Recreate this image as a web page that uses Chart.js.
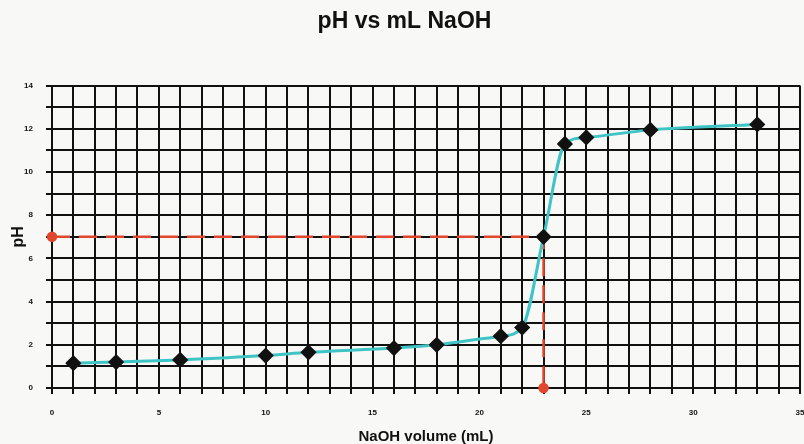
<!DOCTYPE html>
<html lang="en">
<head>
    <meta charset="UTF-8">
    <title>pH vs mL NaOH</title>
    <script src="https://cdn.jsdelivr.net/npm/chart.js"></script>
    <style>
        html, body { margin: 0; padding: 0; background: #f8f8f6; overflow: hidden; }
        /* a little wider than the window so the 35 mL edge lands at the right border, as in the scan */
        #wrap { width: 809px; height: 444px; position: relative; }
    </style>
</head>
<body>
    <div id="wrap"><canvas id="phChart"></canvas></div>
    <script>
        // titration readings
        const volumeMl = [1, 3, 6, 10, 12, 16, 18, 21, 22, 23, 24, 25, 28, 33];
        const phValues = [1.15, 1.2, 1.3, 1.5, 1.65, 1.85, 2.0, 2.4, 2.8, 7.0, 11.3, 11.6, 11.95, 12.2];

        // equivalence point guide (dashed red)
        const guideX = [0, 23, 23];
        const guideY = [7, 7, 0];

        const xTickLabels = [0, 5, 10, 15, 20, 25, 30, 35];
        const yTickLabels = [0, 2, 4, 6, 8, 10, 12, 14];

        const curve = volumeMl.map((v, i) => ({ x: v, y: phValues[i] }));
        const guide = guideX.map((v, i) => ({ x: v, y: guideY[i] }));

        const tickFont = { family: 'Liberation Sans, Arial', size: 8, weight: 'bold' };

        new Chart(document.getElementById('phChart'), {
            type: 'scatter',
            data: {
                datasets: [
                    {
                        data: curve,
                        showLine: true,
                        borderColor: '#3fc4c6',
                        borderWidth: 3,
                        cubicInterpolationMode: 'monotone',
                        pointStyle: 'rectRot',
                        pointRadius: 6,
                        pointBackgroundColor: '#111',
                        pointBorderColor: '#111',
                        order: 0
                    },
                    {
                        data: guide,
                        showLine: true,
                        clip: false,
                        borderColor: '#e0472c',
                        borderWidth: 2.5,
                        borderDash: [18, 9],
                        pointRadius: [4, 0, 4],
                        pointBackgroundColor: '#e0472c',
                        pointBorderColor: '#e0472c',
                        order: 1
                    }
                ]
            },
            options: {
                responsive: true,
                maintainAspectRatio: false,
                animation: false,
                plugins: {
                    legend: { display: false },
                    tooltip: { enabled: false },
                    title: {
                        display: true,
                        text: 'pH vs mL NaOH',
                        color: '#111',
                        font: { family: 'Liberation Sans, Arial', size: 23, weight: 'bold' },
                        padding: { top: 8, bottom: 50 }
                    }
                },
                scales: {
                    x: {
                        type: 'linear',
                        min: 0,
                        max: 35,
                        afterFit: s => { s.height = 56; s.paddingLeft = 0; s.paddingRight = 0; },
                        ticks: {
                            stepSize: 1,
                            autoSkip: false,
                            maxRotation: 0,
                            padding: 14,
                            color: '#111',
                            font: tickFont,
                            callback: v => xTickLabels.includes(v) ? String(v) : ''
                        },
                        grid: { color: '#111', lineWidth: 2, tickLength: 6, tickColor: '#111' },
                        border: { color: '#111', width: 2 },
                        title: {
                            display: true,
                            text: 'NaOH volume (mL)',
                            color: '#111',
                            font: { family: 'Liberation Sans, Arial', size: 15, weight: 'bold' },
                            padding: { top: 0, bottom: -2 }
                        }
                    },
                    y: {
                        min: 0,
                        max: 14,
                        afterFit: s => { s.width = 52; },
                        ticks: {
                            stepSize: 1,
                            autoSkip: false,
                            padding: 13,
                            color: '#111',
                            font: tickFont,
                            callback: v => yTickLabels.includes(v) ? String(v) : ''
                        },
                        grid: { color: '#111', lineWidth: 2, tickLength: 6, tickColor: '#111' },
                        border: { color: '#111', width: 2 },
                        title: {
                            display: true,
                            text: 'pH',
                            color: '#111',
                            font: { family: 'Liberation Sans, Arial', size: 16, weight: 'bold' },
                            padding: { top: 9, bottom: 0 }
                        }
                    }
                }
            }
        });
    </script>
</body>
</html>
